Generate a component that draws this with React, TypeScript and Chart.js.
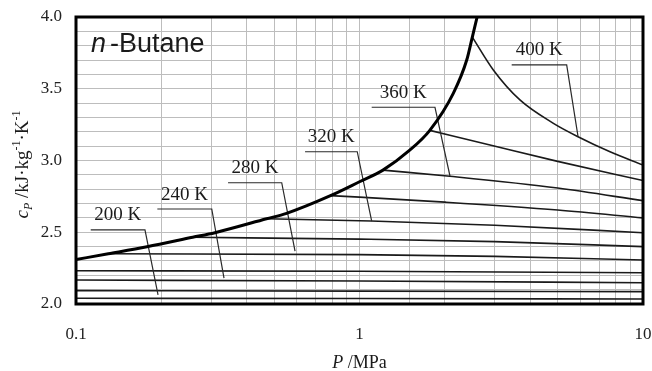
import React, { useEffect, useRef } from "react";
import { Chart, registerables } from "chart.js";

Chart.register(...registerables);

const SERIF = '"Liberation Serif", "Times New Roman", serif';
const SANS = '"Liberation Sans", Arial, sans-serif';

// Axis tick labels
const xTickLabels = [0.1, 1, 10];
const yTickLabels = [2.0, 2.5, 3.0, 3.5, 4.0];

// Saturation curve (thick line)
const satP = [0.1, 0.13, 0.178, 0.258, 0.309, 0.47, 0.553, 0.79, 1.0, 1.21, 1.5, 1.77, 2.142, 2.389, 2.5, 2.6];
const satCp = [2.31, 2.35, 2.399, 2.465, 2.497, 2.594, 2.632, 2.755, 2.852, 2.933, 3.07, 3.21, 3.468, 3.7, 3.86, 4.0];

// Isotherms (K)
const isoTemps = [200, 220, 240, 260, 280, 300, 320, 340, 360, 380, 400];
const p200 = [0.1, 1, 10];
const cp200 = [2.04, 2.038, 2.035];
const p220 = [0.1, 1, 10];
const cp220 = [2.093, 2.09, 2.086];
const p240 = [0.1, 1, 10];
const cp240 = [2.167, 2.16, 2.148];
const p260 = [0.1, 1, 10];
const cp260 = [2.232, 2.228, 2.218];
const p280 = [0.13, 1, 3, 10];
const cp280 = [2.35, 2.344, 2.332, 2.307];
const p300 = [0.258, 1, 3, 10];
const cp300 = [2.465, 2.452, 2.435, 2.4];
const p320 = [0.47, 1.1, 3, 10];
const cp320 = [2.594, 2.578, 2.549, 2.497];
const p340 = [0.79, 1.0, 2, 5, 10];
const cp340 = [2.755, 2.745, 2.71, 2.655, 2.6];
const p360 = [1.21, 2.085, 5, 10];
const cp360 = [2.933, 2.89, 2.808, 2.72];
const p380 = [1.77, 2.886, 5, 10];
const cp380 = [3.21, 3.108, 2.994, 2.86];
const p400 = [2.5, 2.965, 3.68, 4.83, 5.9, 7.65, 10];
const cp400 = [3.86, 3.631, 3.422, 3.259, 3.166, 3.061, 2.969];

const isoP = [p200, p220, p240, p260, p280, p300, p320, p340, p360, p380, p400];
const isoCp = [cp200, cp220, cp240, cp260, cp280, cp300, cp320, cp340, cp360, cp380, cp400];

// Label leader lines
const labelTemps = [200, 240, 280, 320, 360, 400];
const leadP200 = [0.1127, 0.1751, 0.1947];
const leadCp200 = [2.516, 2.516, 2.063];
const leadP240 = [0.1936, 0.3012, 0.3327];
const leadCp240 = [2.662, 2.662, 2.181];
const leadP280 = [0.3438, 0.5317, 0.5924];
const leadCp280 = [2.845, 2.845, 2.369];
const leadP320 = [0.6426, 0.982, 1.104];
const leadCp320 = [3.061, 3.061, 2.578];
const leadP360 = [1.104, 1.846, 2.085];
const leadCp360 = [3.371, 3.371, 2.892];
const leadP400 = [3.442, 5.38, 5.9];
const leadCp400 = [3.666, 3.666, 3.166];
const leadP = [leadP200, leadP240, leadP280, leadP320, leadP360, leadP400];
const leadCp = [leadCp200, leadCp240, leadCp280, leadCp320, leadCp360, leadCp400];

// target plot area inside the 652x371 canvas
const AREA = { left: 76, top: 17, right: 643, bottom: 304 };

const pts = (xs: number[], ys: number[]) => xs.map((x, i) => ({ x, y: ys[i] }));

type Part = { t: string; font: string; dy: number };

function drawParts(ctx: CanvasRenderingContext2D, parts: Part[], cx: number, baseY: number) {
  let total = 0;
  parts.forEach((p) => {
    ctx.font = p.font;
    total += ctx.measureText(p.t).width;
  });
  let x = cx - total / 2;
  ctx.textAlign = "left";
  ctx.textBaseline = "alphabetic";
  parts.forEach((p) => {
    ctx.font = p.font;
    ctx.fillText(p.t, x, baseY + p.dy);
    x += ctx.measureText(p.t).width;
  });
}

const zeroPad = (s: any) => {
  s.paddingLeft = 0;
  s.paddingRight = 0;
  s.paddingTop = 0;
  s.paddingBottom = 0;
};

const overlay = {
  id: "overlay",
  afterDatasetsDraw(chart: any) {
    const { ctx, chartArea: a, scales } = chart;
    const xs = scales.x;
    const ys = scales.y;
    ctx.save();
    // frame
    ctx.strokeStyle = "#000";
    ctx.lineWidth = 3;
    ctx.strokeRect(a.left, a.top, a.right - a.left, a.bottom - a.top);

    // isotherm labels
    ctx.fillStyle = "#1a1a1a";
    ctx.font = `19px ${SERIF}`;
    ctx.textAlign = "center";
    ctx.textBaseline = "alphabetic";
    labelTemps.forEach((t, i) => {
      const x0 = xs.getPixelForValue(leadP[i][0]);
      const x1 = xs.getPixelForValue(leadP[i][1]);
      const y = ys.getPixelForValue(leadCp[i][0]);
      ctx.fillText(`${t} K`, (x0 + x1) / 2, y - 9.5);
    });

    // n-Butane
    ctx.textAlign = "left";
    ctx.font = `italic 27px ${SANS}`;
    const nx = a.left + 15;
    const ny = a.top + 35;
    ctx.fillText("n", nx, ny);
    const nw = ctx.measureText("n").width;
    ctx.font = `27px ${SANS}`;
    ctx.fillText("-Butane", nx + nw + 4, ny);

    // x title
    drawParts(
      ctx,
      [
        { t: "P", font: `italic 18px ${SERIF}`, dy: 0 },
        { t: " /MPa", font: `18px ${SERIF}`, dy: 0 },
      ],
      (a.left + a.right) / 2,
      368
    );

    // y title
    ctx.save();
    ctx.translate(28, (a.top + a.bottom) / 2 + 4);
    ctx.rotate(-Math.PI / 2);
    drawParts(
      ctx,
      [
        { t: "c", font: `italic 19px ${SERIF}`, dy: 0 },
        { t: "P", font: `italic 12px ${SERIF}`, dy: 4 },
        { t: " /kJ\u00b7kg", font: `19px ${SERIF}`, dy: 0 },
        { t: "-1", font: `12px ${SERIF}`, dy: -8 },
        { t: "\u00b7K", font: `19px ${SERIF}`, dy: 0 },
        { t: "-1", font: `12px ${SERIF}`, dy: -8 },
      ],
      0,
      0
    );
    ctx.restore();
    ctx.restore();
  },
};

export default function App() {
  const ref = useRef<HTMLCanvasElement | null>(null);
  useEffect(() => {
    document.body.style.margin = "0";
    const canvas = ref.current;
    if (!canvas) return;
    const datasets: any[] = [];
    isoTemps.forEach((t, i) => {
      datasets.push({
        label: `${t} K`,
        data: pts(isoP[i], isoCp[i]),
        showLine: true,
        borderColor: "#1a1a1a",
        borderWidth: 1.6,
        pointRadius: 0,
        cubicInterpolationMode: "monotone",
        order: 3,
      });
    });
    labelTemps.forEach((t, i) => {
      datasets.push({
        label: `leader ${t}`,
        data: pts(leadP[i], leadCp[i]),
        showLine: true,
        borderColor: "#2a2a2a",
        borderWidth: 1.2,
        pointRadius: 0,
        tension: 0,
        order: 2,
      });
    });
    datasets.push({
      label: "saturation",
      data: pts(satP, satCp),
      showLine: true,
      borderColor: "#000",
      borderWidth: 3,
      pointRadius: 0,
      cubicInterpolationMode: "monotone",
      order: 1,
    });

    const padding = { top: 17, right: 9, left: 0, bottom: 0 };
    const chart = new Chart(canvas, {
      type: "scatter",
      data: { datasets },
      options: {
        animation: false,
        responsive: false,
        events: [],
        layout: { padding },
        plugins: { legend: { display: false }, tooltip: { enabled: false } },
        font: { family: SERIF, size: 17 },
        scales: {
          x: {
            type: "logarithmic",
            min: 0.1,
            max: 10,
            grid: { color: "#bdbdbd", lineWidth: 1, drawTicks: false },
            border: { display: false },
            ticks: {
              autoSkip: false,
              maxRotation: 0,
              padding: 20,
              color: "#222",
              font: { family: SERIF, size: 17 },
              callback: (v: any) => {
                const f = xTickLabels.find((t) => Math.abs(Number(v) - t) / t < 1e-6);
                return f !== undefined ? String(f) : "";
              },
            },
            afterFit: (s: any) => {
              s.height = 67;
              zeroPad(s);
            },
          },
          y: {
            type: "linear",
            min: 2,
            max: 4,
            grid: { color: "#bdbdbd", lineWidth: 1, drawTicks: false },
            border: { display: false },
            ticks: {
              stepSize: 0.1,
              autoSkip: false,
              padding: 14,
              color: "#222",
              font: { family: SERIF, size: 17 },
              callback: (v: any) => {
                const f = yTickLabels.find((t) => Math.abs(Number(v) - t) < 1e-6);
                return f !== undefined ? f.toFixed(1) : "";
              },
            },
            afterFit: (s: any) => {
              s.width = 76;
              zeroPad(s);
            },
          },
        },
      } as any,
      plugins: [overlay],
    });

    // fine-tune layout padding so the plot area lands where the reference has it
    for (let k = 0; k < 4; k++) {
      const ca = chart.chartArea;
      const dl = AREA.left - ca.left;
      const dt = AREA.top - ca.top;
      const dr = ca.right - AREA.right;
      const db = ca.bottom - AREA.bottom;
      if (Math.abs(dl) < 0.5 && Math.abs(dt) < 0.5 && Math.abs(dr) < 0.5 && Math.abs(db) < 0.5) break;
      padding.left = Math.max(0, padding.left + dl);
      padding.top = Math.max(0, padding.top + dt);
      padding.right = Math.max(0, padding.right + dr);
      padding.bottom = Math.max(0, padding.bottom + db);
      (chart.options as any).layout.padding = { ...padding };
      chart.update();
    }
    return () => chart.destroy();
  }, []);
  return (
    <div style={{ position: "absolute", left: 0, top: 0, width: 652, height: 371, background: "#fff" }}>
      <canvas ref={ref} width={652} height={371} style={{ display: "block" }} />
    </div>
  );
}
